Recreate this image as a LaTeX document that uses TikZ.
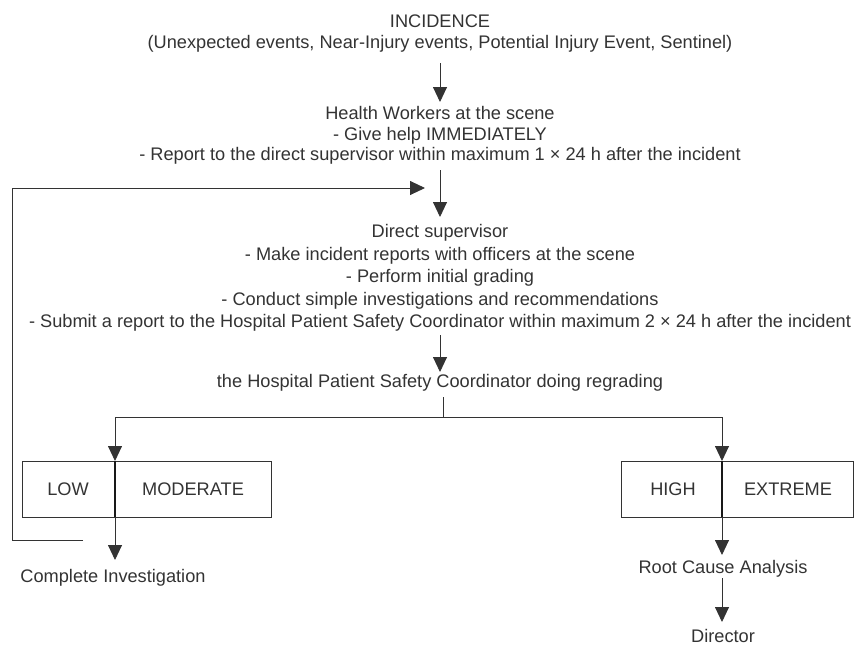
\documentclass[tikz,border=0pt]{standalone}
\usepackage{fontspec}
\setmainfont{Liberation Sans}
\usetikzlibrary{arrows.meta}
\definecolor{ink}{gray}{0.2}
\begin{document}
\begin{tikzpicture}[x=1pt,y=-1pt,
  txt/.style={inner sep=0pt, align=center, font=\fontsize{18.2}{20.3}\selectfont, text=ink},
  flow/.style={draw=ink, line width=0.9pt, -{Triangle[length=15pt,width=14pt]}},
  plain/.style={draw=ink, line width=0.9pt},
  catbox/.style={draw=ink, line width=0.9pt, minimum height=56pt, inner sep=0pt},
  divider/.style={draw=black!90, line width=2pt}]
\useasboundingbox (0,0) rectangle (863,645);

\node[txt] (inc) at (440,33.5) {INCIDENCE\\(Unexpected events, Near-Injury events, Potential Injury Event, Sentinel)};
\node[txt] (hw) at (440,135.5) {Health Workers at the scene\\- Give help IMMEDIATELY\\- Report to the direct supervisor within maximum 1 × 24 h after the incident};
\node[txt, font=\fontsize{18.2}{22.5}\selectfont] (ds) at (440,278) {Direct supervisor\\- Make incident reports with officers at the scene\\- Perform initial grading\\- Conduct simple investigations and recommendations\\- Submit a report to the Hospital Patient Safety Coordinator within maximum 2 × 24 h after the incident};
\node[txt] (hpsc) at (440,383) {the Hospital Patient Safety Coordinator doing regrading};

\node[catbox, minimum width=249pt] (lowbox) at (146.5,489) {};
\node[catbox, minimum width=232pt] (highbox) at (737,489) {};
\node[txt] (low) at (68,489) {LOW};
\node[txt] (mod) at (193,489) {MODERATE};
\node[txt] (high) at (673,489) {HIGH};
\node[txt] (ext) at (788,489) {EXTREME};

\node[txt] (ci) at (113,577.5) {Complete Investigation};
\node[txt] (rca) at (723,568.5) {Root Cause Analysis};
\node[txt] (dir) at (723,636) {Director};

\coordinate (a1s) at (440,63);
\coordinate (a1e) at (440,102);
\coordinate (a2s) at (440,170);
\coordinate (a2e) at (440,217);
\coordinate (fbtop) at (12,188);
\coordinate (fbend) at (425,188);
\coordinate (fbbot) at (12,540);
\coordinate (fbstart) at (83,540);
\coordinate (a3s) at (440,335);
\coordinate (a3e) at (440,372);
\coordinate (brtop) at (443,397);
\coordinate (br) at (443,417);
\coordinate (brl) at (115,417);
\coordinate (brr) at (722,417);
\coordinate (lowdiv) at (115,461);
\coordinate (lowdivb) at (115,517);
\coordinate (lowend) at (115,560);
\coordinate (highdiv) at (722,461);
\coordinate (highdivb) at (722,517);
\coordinate (highend) at (722,555);
\coordinate (rcab) at (722,578);
\coordinate (dirtop) at (722,622);

\draw[flow] (a1s) -- (a1e);
\draw[flow] (a2s) -- (a2e);
\draw[flow] (fbstart) -- (fbbot) -- (fbtop) -- (fbend);
\draw[flow] (a3s) -- (a3e);
\draw[plain] (brtop) -- (br);
\draw[plain] (brl) -- (brr);
\draw[flow] (brl) -- (lowdiv);
\draw[flow] (brr) -- (highdiv);
\draw[divider] (lowdiv) -- (lowdivb);
\draw[divider] (highdiv) -- (highdivb);
\draw[flow] (lowdivb) -- (lowend);
\draw[flow] (highdivb) -- (highend);
\draw[flow] (rcab) -- (dirtop);
\end{tikzpicture}
\end{document}
